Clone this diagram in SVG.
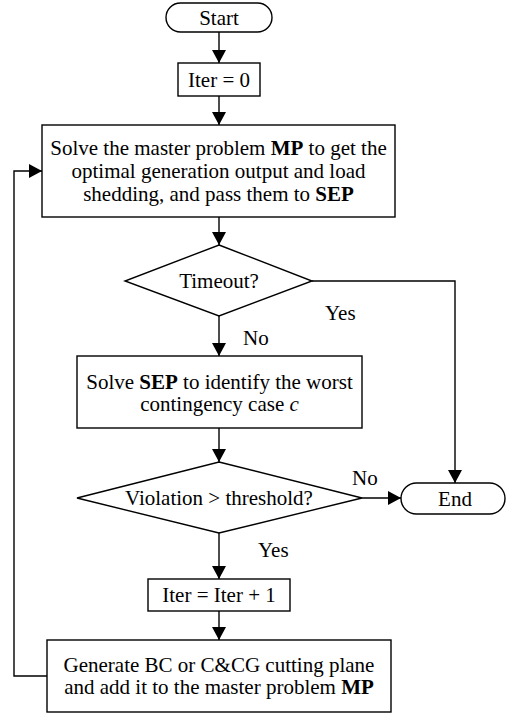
<svg xmlns="http://www.w3.org/2000/svg" width="506" height="715" viewBox="0 0 506 715">
<defs>
<marker id="ah" markerUnits="userSpaceOnUse" markerWidth="13" markerHeight="14" refX="13" refY="7" orient="auto">
<path d="M0,0 L13,7 L0,14 z" fill="#000"/>
</marker>
<style>
.s{fill:#fff;stroke:#000;stroke-width:1.4}
.t{font-size:21px;fill:#000;text-anchor:middle}
.l{font-size:21px;fill:#000}
.c{fill:none;stroke:#000;stroke-width:1.4}
.b{font-weight:bold}
</style>
</defs>
<rect width="506" height="715" fill="#fff"/>
<g font-family="Liberation Serif, DejaVu Serif, serif">
<g id="connectors">
<line class="c" x1="219" y1="32" x2="219" y2="63" marker-end="url(#ah)"/>
<line class="c" x1="219" y1="96" x2="219" y2="125" marker-end="url(#ah)"/>
<line class="c" x1="219" y1="217" x2="219" y2="245" marker-end="url(#ah)"/>
<line class="c" x1="219" y1="316" x2="219" y2="356" marker-end="url(#ah)"/>
<polyline class="c" points="312,281 455,281 455,483" marker-end="url(#ah)"/>
<line class="c" x1="219" y1="428" x2="219" y2="462" marker-end="url(#ah)"/>
<line class="c" x1="362" y1="498" x2="401" y2="498" marker-end="url(#ah)"/>
<line class="c" x1="219" y1="533" x2="219" y2="579" marker-end="url(#ah)"/>
<line class="c" x1="219" y1="611" x2="219" y2="640" marker-end="url(#ah)"/>
<polyline class="c" points="47,676 14,676 14,171 42,171" marker-end="url(#ah)"/>
<text class="l" x="325" y="320">Yes</text>
<text class="l" x="243" y="345">No</text>
<text class="l" x="352" y="485">No</text>
<text class="l" x="258" y="557">Yes</text>
</g>
<g id="start">
<rect class="s" x="166" y="3" width="106" height="29" rx="14.5"/>
<text class="t" x="219" y="25">Start</text>
</g>
<g id="iter0">
<rect class="s" x="178" y="63" width="82" height="33"/>
<text class="t" x="219" y="87">Iter = 0</text>
</g>
<g id="master">
<rect class="s" x="42" y="125" width="353" height="92"/>
<text class="t" x="218.5" y="155">Solve the master problem <tspan class="b">MP</tspan> to get the</text>
<text class="t" x="218.5" y="178">optimal generation output and load</text>
<text class="t" x="218.5" y="201">shedding, and pass them to <tspan class="b">SEP</tspan></text>
</g>
<g id="timeout">
<polygon class="s" points="219,245 312,281 219,316 125,281"/>
<text class="t" x="219" y="288">Timeout?</text>
</g>
<g id="sep">
<rect class="s" x="77" y="356" width="285" height="72"/>
<text class="t" x="219.5" y="389">Solve <tspan class="b">SEP</tspan> to identify the worst</text>
<text class="t" x="219.5" y="411">contingency case <tspan font-style="italic">c</tspan></text>
</g>
<g id="violation">
<polygon class="s" points="219,462 362,498 219,533 77,498"/>
<text class="t" x="219" y="505">Violation &gt; threshold?</text>
</g>
<g id="end">
<rect class="s" x="401" y="483" width="104" height="31" rx="15.5"/>
<text class="t" x="455" y="506">End</text>
</g>
<g id="iterinc">
<rect class="s" x="148" y="579" width="142" height="32"/>
<text class="t" x="219" y="602">Iter = Iter + 1</text>
</g>
<g id="generate">
<rect class="s" x="47" y="640" width="344" height="72"/>
<text class="t" x="219" y="672">Generate BC or C&amp;CG cutting plane</text>
<text class="t" x="219" y="694">and add it to the master problem <tspan class="b">MP</tspan></text>
</g>
</g>
</svg>
